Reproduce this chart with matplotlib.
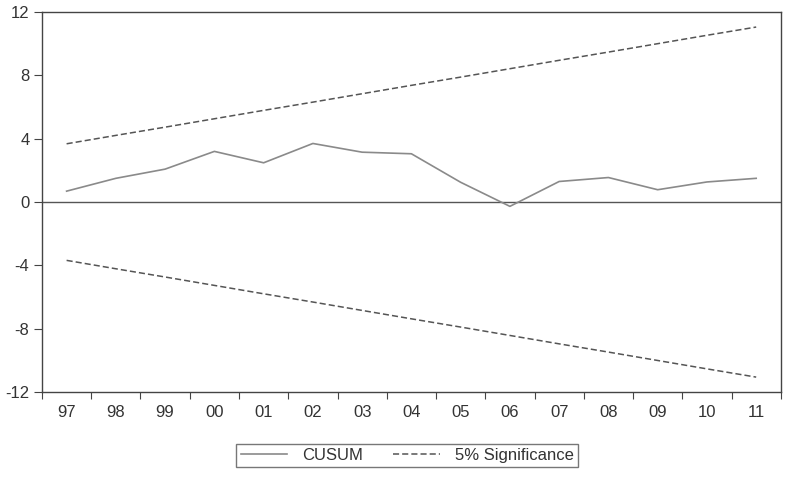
import numpy as np
import matplotlib
matplotlib.use("Agg")
import matplotlib.pyplot as plt
import matplotlib.ticker as ticker

# ----------------------------------------------------------------
# Data
# ----------------------------------------------------------------
years = ["97", "98", "99", "00", "01", "02", "03", "04",
         "05", "06", "07", "08", "09", "10", "11"]
cusum = [0.69, 1.5, 2.08, 3.2, 2.48, 3.7, 3.15, 3.05,
         1.25, -0.27, 1.3, 1.55, 0.78, 1.27, 1.5]
upper = [3.68, 4.21, 4.73, 5.26, 5.79, 6.31, 6.84, 7.37,
         7.89, 8.42, 8.95, 9.47, 10.00, 10.53, 11.05]
lower = [-v for v in upper]
y_ticks = [-12, -8, -4, 0, 4, 8, 12]

plt.rcParams.update({
    "font.family": ["Liberation Sans", "DejaVu Sans"],
    "axes.unicode_minus": False,
})

fig = plt.figure(figsize=(7.86, 4.8), dpi=100)
ax = fig.add_axes([0.0534, 0.183, 0.940, 0.792])

x = np.arange(len(years))
ax.axhline(0, color="#555555", linewidth=1.0, zorder=1)
ax.plot(x, cusum, color="#8a8a8a", linewidth=1.2, label="CUSUM")
ax.plot(x, upper, color="#555555", linewidth=1.1, linestyle=(0, (4, 2)),
        label="5% Significance")
ax.plot(x, lower, color="#555555", linewidth=1.1, linestyle=(0, (4, 2)))

ax.set_xlim(-0.5, len(years) - 0.5)
ax.set_ylim(-12, 12)
ax.set_yticks(y_ticks)
ax.yaxis.set_major_formatter(ticker.FuncFormatter(lambda v, _: f"{int(v)}"))

ax.set_xticks(np.arange(-0.5, len(years), 1.0))
ax.xaxis.set_major_formatter(ticker.NullFormatter())
ax.set_xticks(x, minor=True)
ax.set_xticklabels(years, minor=True)
ax.tick_params(axis="x", which="minor", length=0, pad=9)
ax.tick_params(axis="x", which="major", length=5, direction="out",
               color="#444444")
ax.tick_params(axis="y", length=6, direction="out", color="#444444", pad=3)
ax.tick_params(labelsize=12, labelcolor="#333333", which="both")

for s in ax.spines.values():
    s.set_color("#444444")
    s.set_linewidth(1.0)

fig.legend(loc="center", bbox_to_anchor=(0.518, 0.051), ncol=2,
           frameon=True, fancybox=False, edgecolor="#555555",
           fontsize=12, handlelength=2.8, columnspacing=1.8,
           handletextpad=0.9, borderpad=0.25, labelcolor="#333333")

fig.savefig("out.png", dpi=100)
